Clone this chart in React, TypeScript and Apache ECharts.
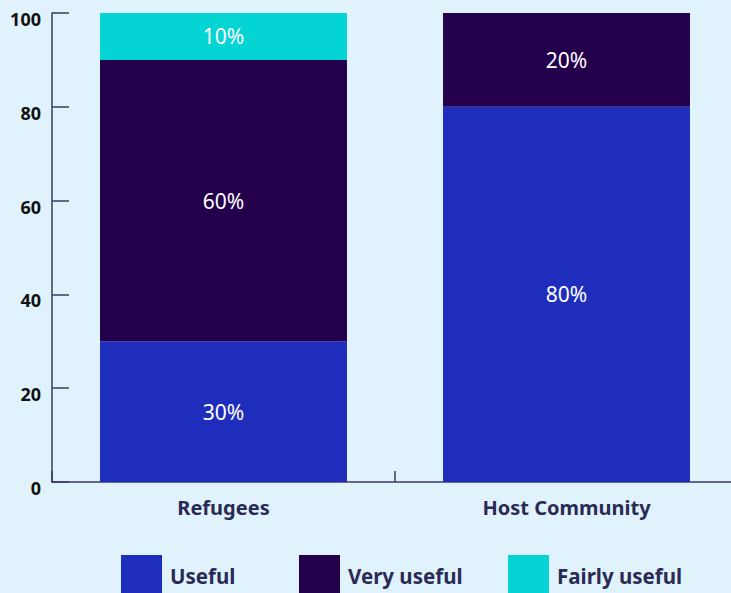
import React, { useEffect, useRef } from "react";
import * as echarts from "echarts";

const categories = ["Refugees", "Host Community"];
const seriesNames = ["Useful", "Very useful", "Fairly useful"];
const useful = [30, 80];
const veryUseful = [60, 20];
const fairlyUseful = [10, 0];
const colors = ["#1f2dbd", "#24004c", "#05d4d4"];
const legendLefts = [121, 299, 508];

export default function App() {
  const ref = useRef<HTMLDivElement>(null);
  useEffect(() => {
    if (!ref.current) return;
    const chart = echarts.init(ref.current, null, { renderer: "svg" });
    const values = [useful, veryUseful, fairlyUseful];
    chart.setOption({
      animation: false,
      backgroundColor: "#e0f3fc",
      textStyle: { fontFamily: "Noto Sans" },
      grid: {
        left: 52,
        top: 13,
        width: 686,
        height: 469,
        containLabel: false,
        outerBoundsMode: "none",
      },
      legend: seriesNames.map((name, i) => ({
        left: legendLefts[i],
        top: 555,
        padding: 0,
        itemWidth: 41,
        itemHeight: 41,
        icon: "rect",
        textStyle: {
          fontFamily: "Noto Sans",
          fontSize: 20.5,
          fontWeight: "bold",
          color: "#2b2a55",
          padding: [0, 0, 0, 3],
        },
        data: [name],
      })),
      xAxis: {
        type: "category",
        data: categories,
        axisLine: { show: true, lineStyle: { color: "#3d3a63", width: 1.5 } },
        axisTick: { show: true, inside: true, length: 11, lineStyle: { color: "#3d3a63", width: 1.5 } },
        axisLabel: {
          fontFamily: "Noto Sans",
          fontSize: 20,
          fontWeight: "bold",
          color: "#2b2a55",
          margin: 15,
        },
      },
      yAxis: {
        type: "value",
        min: 0,
        max: 100,
        interval: 20,
        splitLine: { show: false },
        axisLine: { show: true, lineStyle: { color: "#3d3a63", width: 1.5 } },
        axisTick: { show: true, inside: true, length: 17, lineStyle: { color: "#3d3a63", width: 1.5 } },
        axisLabel: {
          fontFamily: "Noto Sans",
          fontSize: 18,
          fontWeight: "bold",
          color: "#111111",
          margin: 11,
          verticalAlign: "top",
          lineHeight: 12,
        },
      },
      series: seriesNames.map((name, i) => ({
        name,
        type: "bar",
        stack: "total",
        barWidth: "72%",
        data: values[i],
        itemStyle: { color: colors[i] },
        label: {
          show: true,
          position: "inside",
          color: "#ffffff",
          fontFamily: "Noto Sans",
          fontSize: 21,
          formatter: (p: any) => (p.value > 0 ? p.value + "%" : ""),
        },
      })),
    });
    return () => chart.dispose();
  }, []);
  return (
    <div
      ref={ref}
      style={{ position: "fixed", left: 0, top: 0, width: 731, height: 593 }}
    />
  );
}
